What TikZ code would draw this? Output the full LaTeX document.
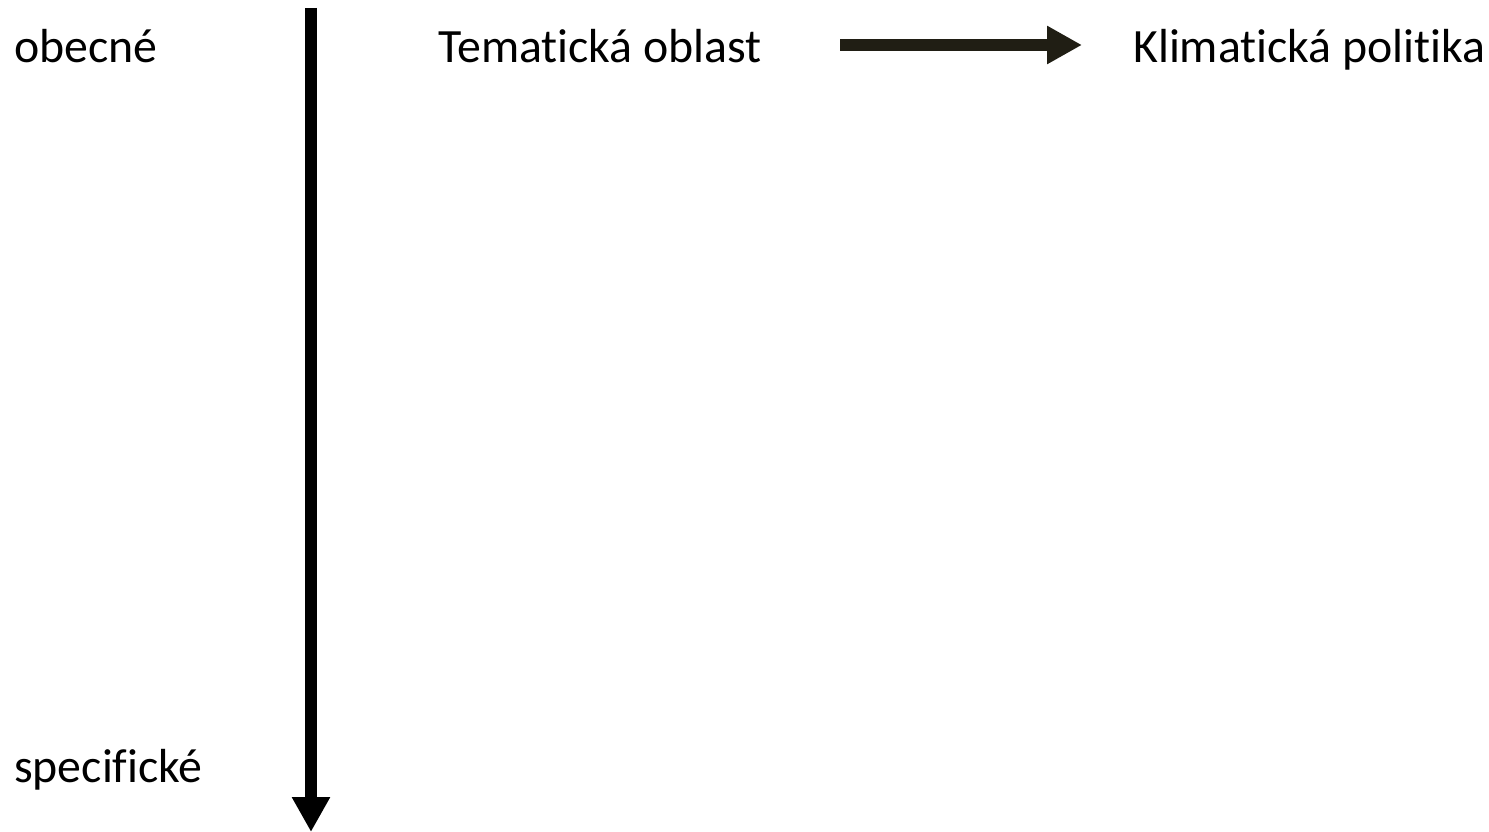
\documentclass[tikz,border=0pt]{standalone}
\usepackage{fontspec}
\setmainfont[Ligatures={NoCommon}]{Carlito}
\usetikzlibrary{arrows.meta}
\definecolor{darkarrow}{HTML}{201E14}
\tikzset{
  lbl/.style={anchor=base west, inner sep=0pt, font=\fontsize{47.8}{54}\selectfont},
  bigarrow/.style={line width=12pt, -{Triangle[length=35pt,width=36pt]}}
}
\begin{document}
\begin{tikzpicture}[x=1pt,y=-1pt]
\useasboundingbox (0,0) rectangle (1489,832);
\node[lbl] (obec) at (14,63) {obecné};
\node[lbl] (spec) at (14,782) {specifické};
\node[lbl] (tema) at (438,63) {Tematická oblast};
\node[lbl] (klim) at (1133,63) {Klimatická politika};
\coordinate (vtop) at (311,8);
\coordinate (vbot) at (311,832);
\coordinate (hs) at (840,45);
\coordinate (he) at (1082,45);
\draw[bigarrow, black] (vtop) -- (vbot);
\draw[bigarrow, darkarrow] (hs) -- (he);
\end{tikzpicture}
\end{document}
